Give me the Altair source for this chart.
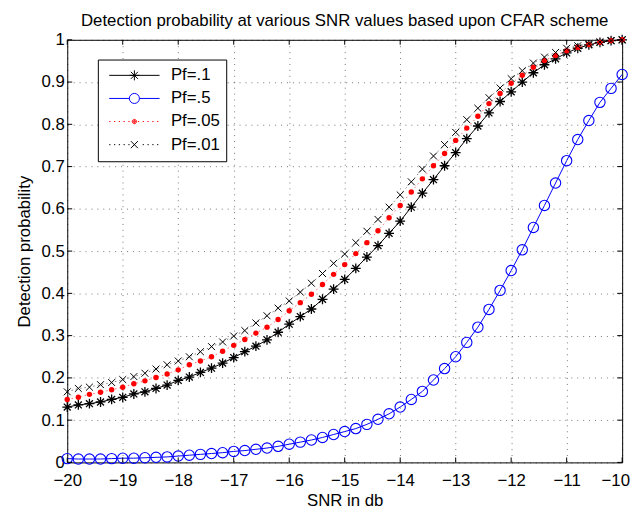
import altair as alt
import pandas as pd

# ---------------- data ----------------
snr = [-20.0, -19.8, -19.6, -19.4, -19.2, -19.0, -18.8, -18.6, -18.4, -18.2,
       -18.0, -17.8, -17.6, -17.4, -17.2, -17.0, -16.8, -16.6, -16.4, -16.2,
       -16.0, -15.8, -15.6, -15.4, -15.2, -15.0, -14.8, -14.6, -14.4, -14.2,
       -14.0, -13.8, -13.6, -13.4, -13.2, -13.0, -12.8, -12.6, -12.4, -12.2,
       -12.0, -11.8, -11.6, -11.4, -11.2, -11.0, -10.8, -10.6, -10.4, -10.2,
       -10.0]

pf_1 = [0.131, 0.136, 0.139, 0.143, 0.149, 0.154, 0.162, 0.167, 0.175, 0.183,
        0.194, 0.202, 0.213, 0.223, 0.235, 0.248, 0.262, 0.275, 0.290, 0.308,
        0.327, 0.345, 0.363, 0.386, 0.410, 0.433, 0.459, 0.486, 0.513, 0.542,
        0.571, 0.604, 0.637, 0.669, 0.702, 0.733, 0.766, 0.796, 0.827, 0.854,
        0.877, 0.900, 0.922, 0.941, 0.955, 0.969, 0.980, 0.988, 0.994, 0.998,
        1.000]

pf_5 = [0.009, 0.008, 0.008, 0.008, 0.009, 0.010, 0.010, 0.011, 0.012, 0.013,
        0.015, 0.017, 0.019, 0.021, 0.023, 0.026, 0.028, 0.031, 0.034, 0.038,
        0.043, 0.048, 0.053, 0.059, 0.066, 0.073, 0.080, 0.090, 0.102, 0.115,
        0.131, 0.149, 0.168, 0.195, 0.222, 0.250, 0.284, 0.320, 0.362, 0.407,
        0.454, 0.503, 0.556, 0.608, 0.661, 0.714, 0.764, 0.809, 0.852, 0.885,
        0.918]

pf_05 = [0.149, 0.154, 0.161, 0.166, 0.172, 0.178, 0.186, 0.193, 0.201, 0.209,
         0.219, 0.231, 0.240, 0.250, 0.263, 0.277, 0.291, 0.306, 0.320, 0.338,
         0.359, 0.378, 0.398, 0.421, 0.445, 0.468, 0.494, 0.520, 0.548, 0.579,
         0.608, 0.640, 0.671, 0.702, 0.731, 0.762, 0.791, 0.819, 0.849, 0.873,
         0.897, 0.916, 0.935, 0.951, 0.963, 0.974, 0.982, 0.989, 0.994, 0.998,
         1.000]

pf_01 = [0.167, 0.175, 0.178, 0.184, 0.189, 0.196, 0.203, 0.211, 0.221, 0.231,
         0.240, 0.250, 0.262, 0.274, 0.285, 0.299, 0.312, 0.330, 0.347, 0.365,
         0.382, 0.403, 0.424, 0.447, 0.471, 0.493, 0.520, 0.547, 0.575, 0.604,
         0.633, 0.664, 0.694, 0.725, 0.752, 0.781, 0.811, 0.838, 0.863, 0.886,
         0.908, 0.927, 0.945, 0.959, 0.970, 0.980, 0.986, 0.991, 0.995, 0.998,
         1.000]

series_names = ["Pf=.1", "Pf=.5", "Pf=.05", "Pf=.01"]
series_colors = ["#000000", "#0000ff", "#ff0000", "#000000"]
x_ticks = [-20, -19, -18, -17, -16, -15, -14, -13, -12, -11, -10]
y_ticks = [0, 0.1, 0.2, 0.3, 0.4, 0.5, 0.6, 0.7, 0.8, 0.9, 1]

# ---------------- styling ----------------
W, H = 562, 428
FONT = "Liberation Sans"
FS = 17

STAR = "M0,-1V1M-1,0H1M-0.7,-0.7L0.7,0.7M-0.7,0.7L0.7,-0.7"
XMARK = "M-1,-1L1,1M-1,1L1,-1"


def dotted(step=0.19, skip=0.0):
    parts = []
    v = -1.0
    while v <= 1.0001:
        if abs(v) >= skip:
            parts.append("M%.3f,0h0.05" % v)
        v += step
    return "".join(parts)


def ring(r):
    return "M%.3f,0A%.3f,%.3f 0 1,1 %.3f,0A%.3f,%.3f 0 1,1 %.3f,0" % (r, r, r, -r, r, r, r)


LEG_STAR = "M-1,0H1M0,-0.2V0.2M-0.2,0H0.2M-0.14,-0.14L0.14,0.14M-0.14,0.14L0.14,-0.14"
LEG_CIRC = "M-1,0H-0.2M0.2,0H1" + ring(0.2)
LEG_DOT = dotted(skip=0.12) + ring(0.085) + ring(0.045) + ring(0.015)
LEG_X = dotted(skip=0.16) + "M-0.14,-0.14L0.14,0.14M-0.14,0.14L0.14,-0.14"
legend_shapes = [LEG_STAR, LEG_CIRC, LEG_DOT, LEG_X]

frames = []
for name, vals in zip(series_names, [pf_1, pf_5, pf_05, pf_01]):
    frames.append(pd.DataFrame({"snr": snr, "pd": vals, "series": name}))
df = pd.concat(frames, ignore_index=True)

x_enc = alt.X("snr:Q",
              scale=alt.Scale(domain=[-20, -10], nice=False, zero=False),
              axis=alt.Axis(values=x_ticks, format="d", title="SNR in db",
                            labelFlush=False, labelPadding=10, titlePadding=5,
                            labelOffset=alt.ExprRef(expr="datum.value == -10 ? -7 : 0")))
y_enc = alt.Y("pd:Q",
              scale=alt.Scale(domain=[0, 1], nice=False, zero=False),
              axis=alt.Axis(values=y_ticks, format="~g", title="Detection probability",
                            labelFlush=False, labelPadding=3, titlePadding=8))

base = alt.Chart(df)


def sel(name):
    return base.transform_filter(alt.datum.series == name)


layers = []
# Pf=.1 : black solid with asterisks
layers.append(sel("Pf=.1").mark_line(color="#000000", strokeWidth=1).encode(x=x_enc, y=y_enc))
layers.append(sel("Pf=.1").mark_point(shape=STAR, size=100, filled=False, color="#000000",
                                     strokeWidth=1.3, opacity=1).encode(x=x_enc, y=y_enc))
# Pf=.5 : blue solid with circles
layers.append(sel("Pf=.5").mark_line(color="#0000ff", strokeWidth=1).encode(x=x_enc, y=y_enc))
layers.append(sel("Pf=.5").mark_point(shape="circle", size=110, filled=False, color="#0000ff",
                                     strokeWidth=1.1, opacity=1).encode(x=x_enc, y=y_enc))
# Pf=.05 : red dotted with dots
layers.append(sel("Pf=.05").mark_line(color="#ff0000", strokeWidth=1, strokeDash=[1.5, 3],
                                      opacity=0.6).encode(x=x_enc, y=y_enc))
layers.append(sel("Pf=.05").mark_point(shape="circle", size=30, filled=True, color="#ff0000",
                                      opacity=1).encode(x=x_enc, y=y_enc))
# Pf=.01 : black dotted with x
layers.append(sel("Pf=.01").mark_line(color="#000000", strokeWidth=1, strokeDash=[1.5, 3],
                                      opacity=0.5).encode(x=x_enc, y=y_enc))
layers.append(sel("Pf=.01").mark_point(shape=XMARK, size=49, filled=False, color="#000000",
                                      strokeWidth=1, opacity=1).encode(x=x_enc, y=y_enc))

# inward ticks (MATLAB style) on all four sides
xt = pd.DataFrame({"snr": x_ticks})
yt = pd.DataFrame({"pd": y_ticks})
layers.append(alt.Chart(xt).mark_rule(color="black", strokeWidth=1).encode(
    x=x_enc, y=alt.value(H), y2=alt.value(H - 5)))
layers.append(alt.Chart(xt).mark_rule(color="black", strokeWidth=1).encode(
    x=x_enc, y=alt.value(0), y2=alt.value(5)))
layers.append(alt.Chart(yt).mark_rule(color="black", strokeWidth=1).encode(
    y=y_enc, x=alt.value(0), x2=alt.value(5)))
layers.append(alt.Chart(yt).mark_rule(color="black", strokeWidth=1).encode(
    y=y_enc, x=alt.value(W - 5), x2=alt.value(W)))

# legend (drawn from an empty layer with explicit domains)
leg = alt.Legend(title=None, orient="none", legendX=31, legendY=20, padding=6,
                 strokeColor="black", fillColor="white", symbolSize=2601,
                 symbolStrokeWidth=1, symbolOffset=5, labelOffset=11, clipHeight=20,
                 rowPadding=3.4, labelFont=FONT, labelFontSize=FS, labelColor="black",
                 symbolOpacity=1, labelExpr="datum.label + '\u00a0\u2009'")
legend_layer = base.transform_filter("false").mark_point(filled=False, opacity=1, strokeWidth=1).encode(
    x=x_enc, y=y_enc,
    color=alt.Color("series:N", scale=alt.Scale(domain=series_names, range=series_colors), legend=leg),
    shape=alt.Shape("series:N", scale=alt.Scale(domain=series_names, range=legend_shapes), legend=leg),
)
layers.append(legend_layer)

chart = alt.layer(*layers).properties(
    width=W, height=H,
    title=alt.TitleParams("Detection probability at various SNR values based upon CFAR scheme",
                          font=FONT, fontSize=FS, fontWeight="normal", color="black",
                          anchor="middle", frame="group", offset=1),
    padding={"left": 60, "top": 29, "right": 12, "bottom": 45},
    autosize=alt.AutoSizeParams(type="none"),
).configure_view(stroke="black", strokeWidth=1).configure_axis(
    labelFont=FONT, labelFontSize=FS, labelColor="black",
    titleFont=FONT, titleFontSize=FS, titleFontWeight="normal", titleColor="black",
    grid=True, gridColor="black", gridOpacity=0.55, gridDash=[1, 5], gridWidth=1,
    domain=False, ticks=False,
)

chart.save("out.html", embed_options={"renderer": "svg", "actions": False})
